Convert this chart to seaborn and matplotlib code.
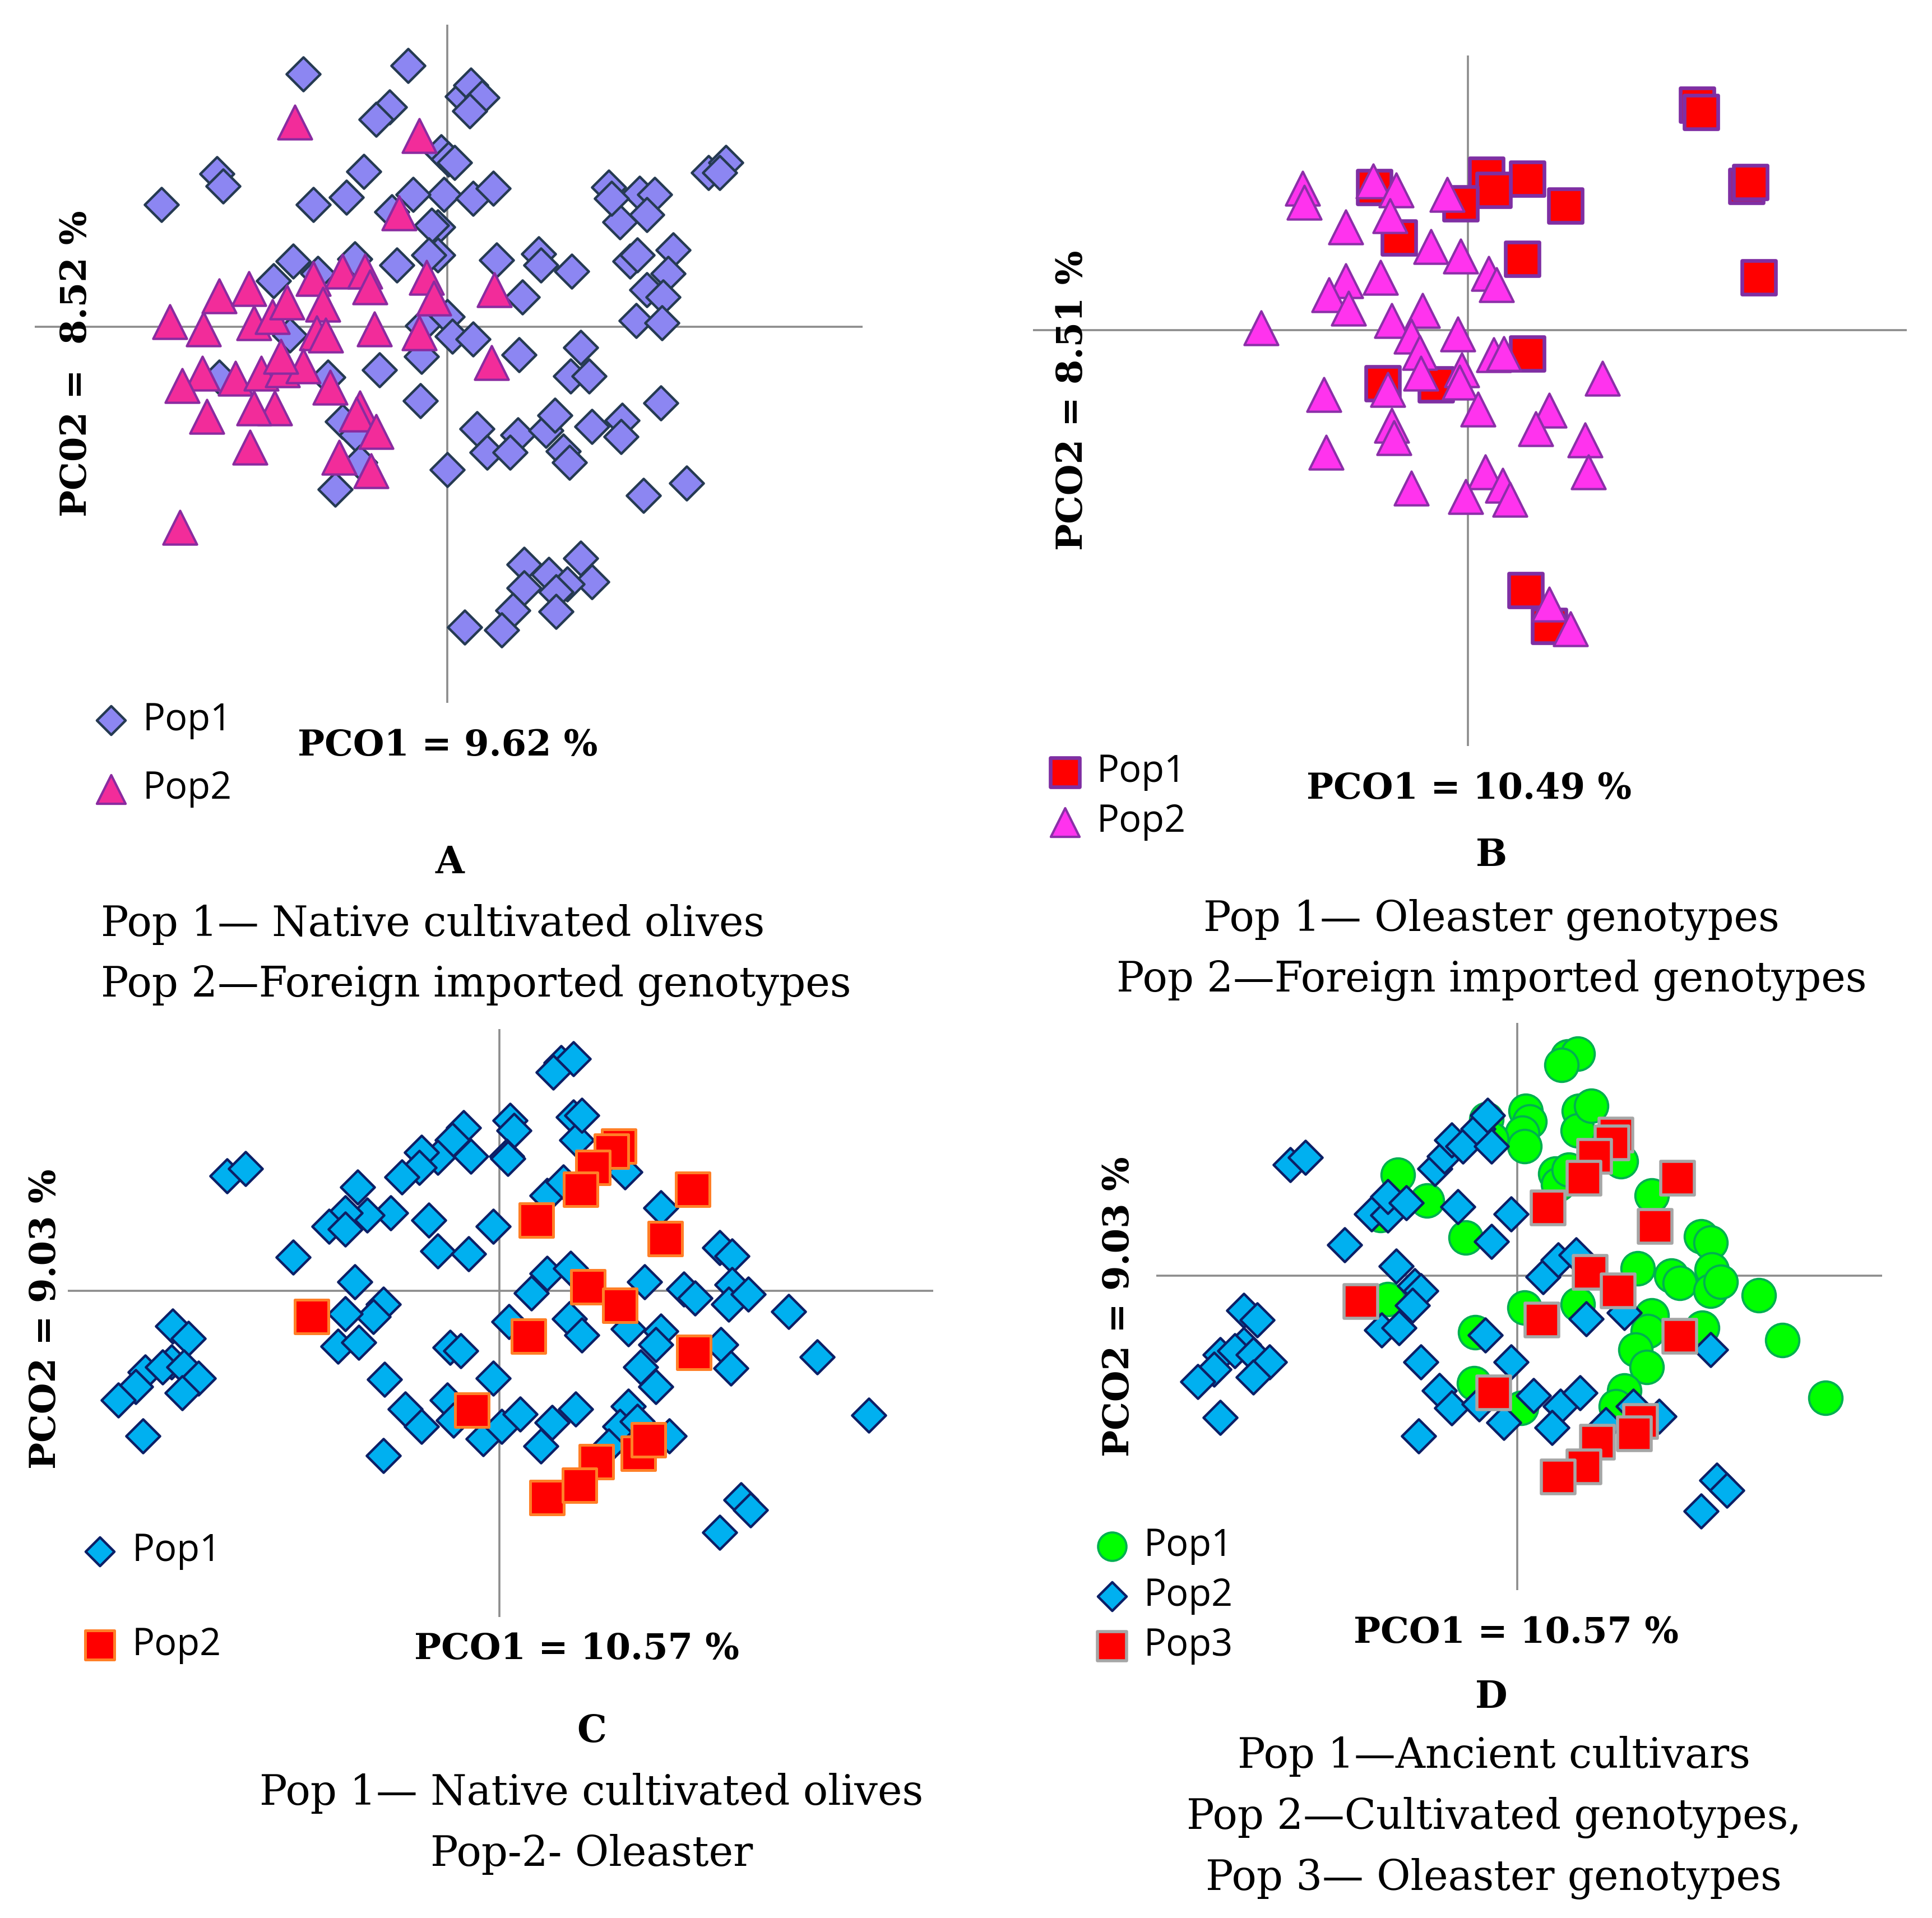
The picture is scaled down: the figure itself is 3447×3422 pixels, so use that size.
import matplotlib
matplotlib.use('Agg')
import matplotlib.pyplot as plt
import seaborn as sns

# ---------------- data (PCoA scores) ----------------
# Panel A: native cultivated olives (Pop1) vs foreign imported genotypes (Pop2)
a_pop1_x = [12, 19, 28, 18, -5, 1, 6, -3, 21, 37, -8, -8, 40, 74, 76, 101, 61, 131, 156, 168,
            140, 162, 133, 212, 226, 221, 148, 154, 183, 179, 162, 175, 153, 174, 0, 4, 21, 58,
            108, 100, 115, 173, 24, 32, 57, 51, 80, 87, 94, 99, 117, 142, 141, 0, 159, 194,
            62, 82, 108, 117, 97, 62, 88, 53, 88, 14, 44,
            -117, -32, -47, -58, -187, -182, -232, -109, -82, -68, -28, -45, -13, -15, -41, -75,
            -125, -141, -20, -21, -55, -22, -185, -97, -85, -74, -71, -91, -128, -105]
a_pop1_y = [187, 196, 186, 175, 142, 136, 133, 107, 104, 112, 81, 58, 54, 59, 50, 45, 24, 113, 108, 107,
            85, 91, 104, 125, 133, 125, 53, 58, 62, 43, 30, 24, 5, 3, 8, -8, -10, -23,
            -17, -40, -40, -62, -83, -102, -88, -102, -84, -72, -101, -110, -81, -76, -89, -116, -137, -127,
            -193, -201, -188, -207, -209, -212, -215, -230, -231, -244, -246,
            205, 212, 178, 168, 124, 114, 99, 99, 105, 126, 107, 93, 82, 58, 50, 55,
            53, 37, 1, -24, -35, -60, -41, -41, -77, -88, -110, -132, -7, 43]
a_pop2_x = [-124, -23, -39, -225, -198, -185, -161, -157, -142, -130, -109, -85, -67, -63, -17, -11,
            -101, -106, -99, -59, -23, -199, -215, -172, -151, -134, -117, -140, -157, -95, -71, -74,
            -58, -195, -160, -88, -62, -217, -135, 38, 36]
a_pop2_y = [166, 155, 92, 4, -2, 25, 31, 3, 8, 20, 39, 45, 45, 32, 40, 23,
            18, -5, -7, -2, -5, -38, -48, -42, -38, -35, -32, -66, -66, -49, -66, -71,
            -85, -73, -98, -106, -117, -163, -24, 30, -29]

# Panel B: oleaster genotypes (Pop1) vs foreign imported genotypes (Pop2)
b_pop1_x = [186, 189, 226, 229, 236, 15, 48, 21, -6, 79, -76, -56, 44, 48, -69, -26, 47, 66]
b_pop1_y = [183, 177, 117, 120, 43, 126, 123, 114, 103, 101, 116, 75, 58, -19, -43, -44, -211, -240]
b_pop2_x = [-134, -133, -77, -58, -17, -63, -99, -30, -6, 17, 23, -71, -99, -113, -97, -37, -62,
            -168, -8, -46, -39, 21, 29, -5, -38, -7, -65, -117, 109, 8, 66, 55, -62, -60, 95, 98,
            -115, 14, 28, 34, -46, -2, 66, 83]
b_pop2_y = [115, 104, 121, 114, 110, 93, 84, 68, 60, 46, 37, 43, 40, 29, 18, 16, 8,
            2, -3, -5, -18, -20, -19, -32, -35, -42, -48, -52, -39, -64, -65, -80, -77, -87, -89, -115,
            -99, -115, -126, -137, -128, -135, -222, -242]

# Panel C: native cultivated olives (Pop1) vs oleaster (Pop2)
c_pop1_x = [-221, -206, -115, -29, -38, -50, -63, -65, -79, -23, 9, 12, 6, 50, 60, 44, 60, 63, 39,
            -88, -107, -125, -138, -125, -57, -5, -50, -25, -167, -117, 39, 58, 26, -94, -102, -125,
            8, 57, 67, -131, -114, -40, -31, -265, -252, -287, -266, -273, -256, -244, -295, -309,
            -257, -289, -93, -5, -76, -42, -63, -37, -13, 2, 17, 43, 34, 62, -94,
            67, 7, 102, 52, 131, 179, 189, 118, 150, 159, 189, 186, 202, 235, 105, 131, 127, 180,
            188, 258, 115, 127, 105, 98, 112, 138, 89, 300, 196, 204, 179]
c_pop1_y = [93, 99, 84, 132, 122, 108, 112, 100, 92, 109, 138, 130, 109, 185, 188, 177, 141, 122, 77,
            63, 61, 63, 52, 50, 57, 52, 32, 30, 27, 7, 14, 18, -2, -11, -21, -19,
            -25, -23, -36, -45, -42, -46, -49, -29, -39, -66, -58, -62, -62, -71, -78, -89,
            -83, -118, -72, -71, -96, -89, -110, -105, -120, -110, -100, -107, -126, -96, -134,
            142, 107, 96, 88, 67, 35, 28, 7, 1, -6, 5, -11, -3, -17, -31, -33, -44, -44,
            -63, -54, -62, -78, -94, -110, -106, -118, -126, -101, -170, -178, -196]
c_pop2_x = [-152, 30, 24, -22, 39, 97, 91, 76, 66, 157, 135, 72, 98, 158, 79, 113, 121, 65]
c_pop2_y = [-21, 57, -37, -97, -168, 117, 113, 100, 82, 82, 42, 3, -12, -50, -139, -132, -121, -158]

# Panel D: ancient cultivars (Pop1), cultivated genotypes (Pop2), oleaster genotypes (Pop3)
d_pop1_x = [41, 49, 36, 7, 10, 4, 6, -25, -21, 50, 49, 60, 31, 33, -97, -73, -111, -42, -105, 6,
            -34, 49, -35, 3, 84, 42, 109, 149, 157, 98, 125, 132, 158, 157, 165, 196, 215, 250,
            109, 106, 150, 96, 105, 87, 80]
d_pop1_y = [178, 180, 171, 134, 125, 116, 105, 127, 111, 134, 118, 138, 83, 74, 82, 61, 49, 31, -19, -26,
            -46, -23, -87, -107, 93, 86, 65, 32, 27, 6, 0, -6, 5, -12, -5, -16, -52, -99,
            -32, -45, -42, -60, -74, -93, -106]
d_pop2_x = [-184, -172, -140, -118, -105, -105, -90, -67, -59, -53, -44, -32, -24, -21, -48, -5, -21,
            -98, -83, -78, -85, -110, -96, -222, -211, -222, -241, -229, -214, -201, -214, -246,
            -259, -241, -78, -26, -5, -63, -53, -31, -11, -80, 21, 33, 48, 13, 35, 51, 28, 56, 87,
            157, 72, 94, 115, 162, 170, 149]
d_pop2_y = [90, 96, 25, 50, 49, 64, 59, 87, 97, 110, 105, 119, 130, 105, 56, 50, 28,
            8, -8, -12, -24, -44, -42, -28, -36, -56, -64, -61, -64, -70, -82, -76,
            -86, -115, -70, -48, -70, -93, -107, -104, -119, -130, -1, 13, 17, -97, -106, -95, -123, -35, -30,
            -60, -121, -106, -114, -166, -174, -191]
d_pop3_x = [80, 77, 63, 54, 25, 130, 112, 59, 82, -127, 20, 132, -19, 100, 95, 65, 54, 33]
d_pop3_y = [114, 108, 97, 79, 55, 79, 40, 3, -12, -21, -36, -49, -95, -118, -128, -135, -155, -163]

captions = {
    'A': ['Pop 1\u2014 Native cultivated olives', 'Pop 2\u2014Foreign imported genotypes'],
    'B': ['Pop 1\u2014 Oleaster genotypes', 'Pop 2\u2014Foreign imported genotypes'],
    'C': ['Pop 1\u2014 Native cultivated olives', 'Pop-2- Oleaster'],
    'D': ['Pop 1\u2014Ancient cultivars', 'Pop 2\u2014Cultivated genotypes,', 'Pop 3\u2014 Oleaster genotypes'],
}

# ---------------- figure ----------------
sns.set_theme(style='white')
plt.rcParams['font.family'] = ['DejaVu Serif']
plt.rcParams['text.color'] = 'black'

W, H = 1568, 1556  # layout grid (reference pixels, shrunk)
fig = plt.figure(figsize=(17.24, 17.11), dpi=200)


def fx(x):
    return x / W


def fy(y):
    return 1 - y / H


def panel(x0, y0, x1, y1, cx, cy):
    # axes box = extent of the cross-hair lines, origin at the crossing
    ax = fig.add_axes([fx(x0), fy(y1), (x1 - x0) / W, (y1 - y0) / H])
    ax.set_xlim(x0 - cx, x1 - cx)
    ax.set_ylim(cy - y1, cy - y0)
    ax.axhline(0, color='#8c8c8c', lw=1.3, zorder=0)
    ax.axvline(0, color='#8c8c8c', lw=1.3, zorder=0)
    ax.set_axis_off()
    return ax


def pts(ax, x, y, marker, s, fc, ec, lw, label):
    sns.scatterplot(x=x, y=y, marker=marker, s=s, color=fc, edgecolor=ec, linewidth=lw,
                    ax=ax, label=label, legend=False, clip_on=False)


def legend(ax, x, y, spacing):
    h, l = ax.get_legend_handles_labels()
    ax.legend(h, l, loc='upper left', bbox_to_anchor=(fx(x), fy(y)), bbox_transform=fig.transFigure,
              frameon=False, borderpad=0, borderaxespad=0, handlelength=1.0, handletextpad=0.35,
              labelspacing=spacing, markerscale=0.85, labelcolor='black',
              prop={'family': 'Open Sans', 'size': 24})


def labels(xlab, xpos, ylab, ypos, letter, lpos, lines, cap_x, cap_y, ha='center'):
    fig.text(fx(xpos[0]), fy(xpos[1]), xlab, ha='center', va='center', fontsize=23, fontweight='bold')
    fig.text(fx(ypos[0]), fy(ypos[1]), ylab, ha='center', va='center', fontsize=23, fontweight='bold',
             rotation=90)
    fig.text(fx(lpos[0]), fy(lpos[1]), letter, ha='center', va='center', fontsize=24, fontweight='bold')
    for i, line in enumerate(lines):
        fig.text(fx(cap_x), fy(cap_y + 49.5 * i), line, ha=ha, va='center', fontsize=26.5)


# Panel A
axA = panel(28, 20, 700, 570, 363, 265)
pts(axA, a_pop1_x, a_pop1_y, 'D', 235, '#8c86f2', '#253a52', 1.6, 'Pop1')
pts(axA, a_pop2_x, a_pop2_y, '^', 470, '#f22c9a', '#8a2ba0', 1.5, 'Pop2')
legend(axA, 75, 569, 0.82)
labels('PCO1 = 9.62 %', (363, 605), 'PC02 =  8.52 %', (62, 295), 'A', (365, 700),
       captions['A'], 82, 750, ha='left')

# Panel B
axB = panel(838, 45, 1547, 605, 1191, 268)
pts(axB, b_pop1_x, b_pop1_y, 's', 480, '#ff0000', '#7f2fa3', 2.4, 'Pop1')
pts(axB, b_pop2_x, b_pop2_y, '^', 470, '#ff33ee', '#8b2fa8', 1.5, 'Pop2')
legend(axB, 849, 611, 0.32)
labels('PCO1 = 10.49 %', (1192, 640), 'PCO2 = 8.51 %', (870, 325), 'B', (1210, 694),
       captions['B'], 1210, 746)

# Panel C
axC = panel(55, 835, 757, 1312, 405, 1047)
pts(axC, c_pop1_x, c_pop1_y, 'D', 235, '#00b0f0', '#0c1f66', 1.6, 'Pop1')
pts(axC, c_pop2_x, c_pop2_y, 's', 470, '#ff0000', '#ff7f27', 1.8, 'Pop2')
legend(axC, 66, 1243, 1.5)
labels('PCO1 = 10.57 %', (468, 1338), 'PCO2 = 9.03 %', (37, 1070), 'C', (480, 1405),
       captions['C'], 480, 1455)

# Panel D
axD = panel(938, 830, 1527, 1290, 1231, 1035)
pts(axD, d_pop1_x, d_pop1_y, 'o', 460, '#00ff00', '#00b050', 1.4, 'Pop1')
pts(axD, d_pop2_x, d_pop2_y, 'D', 235, '#00b0f0', '#0c1f66', 1.6, 'Pop2')
pts(axD, d_pop3_x, d_pop3_y, 's', 470, '#ff0000', '#a6a6a6', 2.0, 'Pop3')
legend(axD, 887, 1239, 0.32)
labels('PCO1 = 10.57 %', (1230, 1325), 'PCO2 = 9.03 %', (908, 1060), 'D', (1210, 1377),
       captions['D'], 1212, 1425)

fig.savefig('out.png', dpi=200, facecolor='white')
